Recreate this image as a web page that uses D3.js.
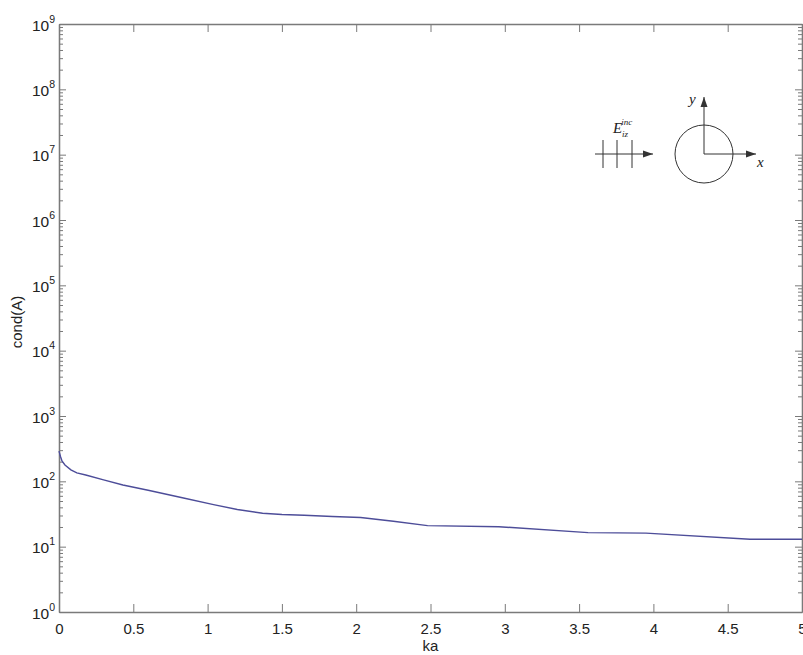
<!DOCTYPE html>
<html>
<head>
<meta charset="utf-8">
<script src="https://cdn.jsdelivr.net/npm/d3@7"></script>
<style>
  body { margin: 0; background: #fff; }
  svg { display: block; }
  .axis text { font-family: "Liberation Sans", Arial, sans-serif; fill: #222; }
</style>
</head>
<body>
<svg id="chart" width="803" height="655"></svg>
<script>
// Condition number of the system matrix versus electrical size ka
const ka = [0, 0.01, 0.02, 0.04, 0.08, 0.12, 0.18, 0.3, 0.43, 0.6, 0.83, 1.04, 1.2, 1.37,
            1.5, 1.65, 1.84, 2.03, 2.25, 2.48, 2.96, 3.56, 3.95, 4.65, 5.0];
const condA = [290, 240, 205, 178, 150, 135, 125, 105, 88, 73, 56, 44, 37, 32.5,
               31, 30.2, 29, 28, 24.5, 21, 20.2, 16.4, 16.1, 13.0, 13.0];

const xTicks = [0, 0.5, 1, 1.5, 2, 2.5, 3, 3.5, 4, 4.5, 5];
const xTickLabels = ["0", "0.5", "1", "1.5", "2", "2.5", "3", "3.5", "4", "4.5", "5"];
const yExponents = [0, 1, 2, 3, 4, 5, 6, 7, 8, 9];

const svg = d3.select("#chart");
const plotLeft = 59, plotRight = 802, plotTop = 24, plotBottom = 612;

const x = d3.scaleLinear().domain([0, 5]).range([plotLeft, plotRight]);
const y = d3.scaleLog().domain([1, 1e9]).range([plotBottom, plotTop]);

const majorY = yExponents.map(e => Math.pow(10, e));
const minorY = [];
yExponents.slice(0, -1).forEach(e => {
  for (let m = 2; m <= 9; m++) minorY.push(m * Math.pow(10, e));
});

const axisColor = "#7a7a7a";
function styleAxis(g) {
  g.selectAll("path.domain").attr("stroke", axisColor).attr("stroke-width", 1.3);
  g.selectAll(".tick line").attr("stroke", axisColor).attr("stroke-width", 1);
}

// bottom axis with labels
const gx = svg.append("g").attr("class", "axis")
  .attr("transform", `translate(0,${plotBottom})`)
  .call(d3.axisBottom(x).tickValues(xTicks)
    .tickFormat((d, i) => xTickLabels[i])
    .tickSizeInner(-8).tickSizeOuter(0).tickPadding(11));
gx.selectAll("text").attr("font-size", 15).attr("dy", "0.71em");
styleAxis(gx);

// top axis, ticks only
const gxt = svg.append("g").attr("class", "axis")
  .attr("transform", `translate(0,${plotTop})`)
  .call(d3.axisTop(x).tickValues(xTicks).tickFormat("")
    .tickSizeInner(-8).tickSizeOuter(0));
styleAxis(gxt);

// left axis: decades with labels
const gy = svg.append("g").attr("class", "axis")
  .attr("transform", `translate(${plotLeft},0)`)
  .call(d3.axisLeft(y).tickValues(majorY).tickFormat("")
    .tickSizeInner(-7).tickSizeOuter(0));
styleAxis(gy);
gy.selectAll(".tick").each(function (d, i) {
  const t = d3.select(this).append("text")
    .attr("x", -4).attr("y", 6)
    .attr("text-anchor", "end")
    .attr("font-size", 15.5)
    .attr("fill", "#222");
  t.append("tspan").text("10");
  t.append("tspan").attr("font-size", 10.5).attr("dy", -8).text(yExponents[i]);
});

// left axis: minor ticks
const gym = svg.append("g").attr("class", "axis")
  .attr("transform", `translate(${plotLeft},0)`)
  .call(d3.axisLeft(y).tickValues(minorY).tickFormat("")
    .tickSizeInner(-4).tickSizeOuter(0));
styleAxis(gym);

// right axis: major and minor ticks
const gyr = svg.append("g").attr("class", "axis")
  .attr("transform", `translate(${plotRight},0)`)
  .call(d3.axisRight(y).tickValues(majorY).tickFormat("")
    .tickSizeInner(-7).tickSizeOuter(0));
styleAxis(gyr);
const gyrm = svg.append("g").attr("class", "axis")
  .attr("transform", `translate(${plotRight},0)`)
  .call(d3.axisRight(y).tickValues(minorY).tickFormat("")
    .tickSizeInner(-4).tickSizeOuter(0));
styleAxis(gyrm);

// axis titles
svg.append("text")
  .attr("x", x(2.5)).attr("y", 651)
  .attr("text-anchor", "middle")
  .attr("font-family", "Liberation Sans, Arial, sans-serif")
  .attr("font-size", 15).attr("fill", "#222")
  .text("ka");
svg.append("text")
  .attr("transform", `translate(22,${(plotTop + plotBottom) / 2 + 4}) rotate(-90)`)
  .attr("text-anchor", "middle")
  .attr("font-family", "Liberation Sans, Arial, sans-serif")
  .attr("font-size", 15).attr("fill", "#222")
  .text("cond(A)");

// data curve
const line = d3.line().x((d, i) => x(ka[i])).y(d => y(d));
svg.append("path")
  .datum(condA)
  .attr("d", line)
  .attr("fill", "none")
  .attr("stroke", "#4d4d99")
  .attr("stroke-width", 1.4);

// geometry sketch: incident plane wave on a circular cylinder
const ink = "#333";
const sketch = svg.append("g").attr("stroke", ink).attr("fill", "none").attr("stroke-width", 1);
function arrow(x1, y1, x2, y2) {
  sketch.append("line").attr("x1", x1).attr("y1", y1).attr("x2", x2).attr("y2", y2);
  const a = Math.atan2(y2 - y1, x2 - x1), L = 10, W = 3.5;
  const bx = x2 - L * Math.cos(a), by = y2 - L * Math.sin(a);
  const px = -Math.sin(a) * W, py = Math.cos(a) * W;
  sketch.append("path")
    .attr("d", `M${x2},${y2}L${bx + px},${by + py}L${bx - px},${by - py}Z`)
    .attr("fill", ink).attr("stroke", "none");
}
arrow(595, 154, 653, 154);
[603, 617, 632].forEach(px =>
  sketch.append("line").attr("x1", px).attr("y1", 140).attr("x2", px).attr("y2", 168));
sketch.append("circle").attr("cx", 704).attr("cy", 154).attr("r", 29);
arrow(704, 154, 704, 97);
arrow(704, 154, 756, 154);

const serif = "Liberation Serif, Times New Roman, serif";
svg.append("text").attr("x", 689).attr("y", 104)
  .attr("font-family", serif).attr("font-style", "italic").attr("font-size", 15).attr("fill", "#222")
  .text("y");
svg.append("text").attr("x", 757).attr("y", 167)
  .attr("font-family", serif).attr("font-style", "italic").attr("font-size", 15).attr("fill", "#222")
  .text("x");
const e = svg.append("text").attr("x", 613).attr("y", 133)
  .attr("font-family", serif).attr("font-style", "italic").attr("font-size", 15).attr("fill", "#222");
e.append("tspan").text("E");
e.append("tspan").attr("font-size", 9).attr("dx", -1).attr("dy", -8).text("inc");
svg.append("text").attr("x", 622).attr("y", 137)
  .attr("font-family", serif).attr("font-style", "italic").attr("font-size", 9).attr("fill", "#222")
  .text("iz");
</script>
</body>
</html>
